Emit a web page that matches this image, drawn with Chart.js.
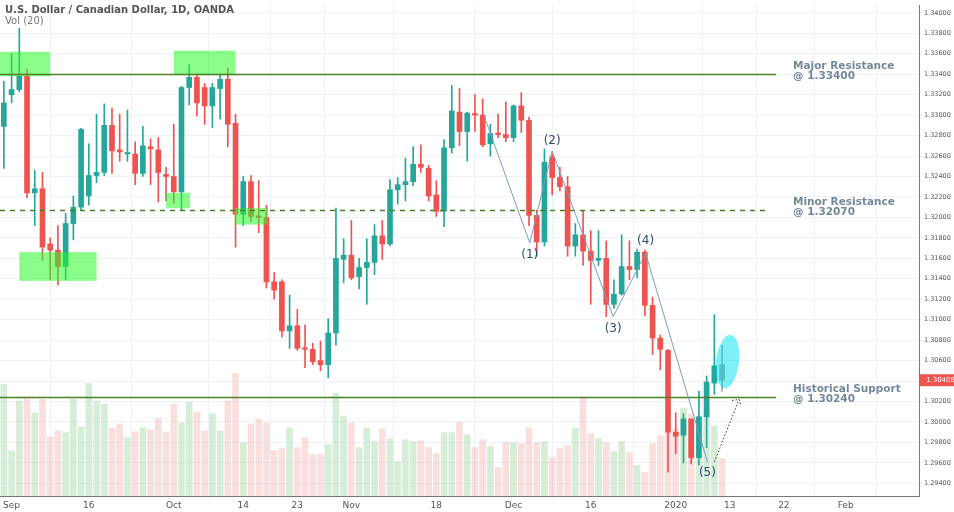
<!DOCTYPE html>
<html>
<head>
<meta charset="utf-8">
<script src="https://cdn.jsdelivr.net/npm/chart.js@4.4.1/dist/chart.umd.min.js"></script>
<style>
  html, body { margin: 0; padding: 0; background: #fff; }
  #wrap { width: 954px; height: 512px; position: relative; }
</style>
</head>
<body>
<div id="wrap"><canvas id="fx"></canvas></div>
<script>
// USD/CAD daily candles, 30 Aug 2019 .. 10 Jan 2020
const opens = [1.3289,1.3320,1.3325,1.3338,1.3224,1.3228,1.3174,1.3168,1.3152,1.3194,
  1.3210,1.3221,1.3241,1.3244,1.3290,1.3266,1.3262,1.3262,1.3243,1.3269,
  1.3266,1.3242,1.3240,1.3225,1.3327,1.3337,1.3327,1.3309,1.3326,1.3335,
  1.3292,1.3203,1.3235,1.3201,1.3200,1.3137,1.3137,1.3089,1.3094,1.3072,
  1.3071,1.3060,1.3056,1.3087,1.3159,1.3163,1.3142,1.3151,1.3156,1.3182,
  1.3174,1.3227,1.3232,1.3235,1.3252,1.3248,1.3222,1.3206,1.3268,1.3303,
  1.3284,1.3301,1.3300,1.3272,1.3282,1.3281,1.3278,1.3309,1.3295,1.3202,
  1.3176,1.3259,1.3239,1.3230,1.3172,1.3183,1.3167,1.3158,1.3160,1.3115,
  1.3125,1.3152,1.3149,1.3166,1.3114,1.3082,1.3070,1.2990,1.2987,1.3003,
  1.2965,1.3005,1.3038,1.3056];
const closes = [1.3312,1.3325,1.3338,1.3224,1.3228,1.3171,1.3168,1.3152,1.3194,1.3210,
  1.3286,1.3241,1.3244,1.3290,1.3265,1.3264,1.3263,1.3243,1.3270,1.3267,
  1.3244,1.3240,1.3225,1.3327,1.3337,1.3312,1.3309,1.3327,1.3335,1.3291,
  1.3203,1.3235,1.3201,1.3200,1.3137,1.3129,1.3089,1.3094,1.3072,1.3071,
  1.3059,1.3056,1.3087,1.3160,1.3163,1.3141,1.3151,1.3156,1.3182,1.3174,
  1.3227,1.3232,1.3235,1.3252,1.3249,1.3221,1.3206,1.3268,1.3304,1.3284,
  1.3302,1.3300,1.3271,1.3282,1.3281,1.3278,1.3309,1.3295,1.3202,1.3176,
  1.3254,1.3239,1.3230,1.3172,1.3183,1.3167,1.3158,1.3160,1.3115,1.3125,
  1.3152,1.3149,1.3166,1.3114,1.3082,1.3071,1.2990,1.2986,1.3003,1.2965,
  1.3005,1.3039,1.3055,1.3041];
const highs = [1.3333,1.3360,1.3385,1.3345,1.3246,1.3244,1.3180,1.3192,1.3204,1.3221,
  1.3287,1.3272,1.3301,1.3311,1.3307,1.3301,1.3305,1.3274,1.3289,1.3277,
  1.3278,1.3249,1.3291,1.3328,1.3349,1.3339,1.3331,1.3331,1.3339,1.3346,
  1.3301,1.3240,1.3241,1.3236,1.3212,1.3146,1.3139,1.3124,1.3110,1.3095,
  1.3077,1.3079,1.3101,1.3209,1.3179,1.3197,1.3160,1.3179,1.3193,1.3197,
  1.3237,1.3239,1.3258,1.3269,1.3271,1.3251,1.3236,1.3276,1.3329,1.3326,
  1.3303,1.3320,1.3316,1.3291,1.3301,1.3313,1.3310,1.3322,1.3298,1.3207,
  1.3267,1.3262,1.3249,1.3240,1.3194,1.3206,1.3187,1.3187,1.3177,1.3139,
  1.3183,1.3177,1.3169,1.3168,1.3122,1.3085,1.3071,1.3009,1.3008,1.3003,
  1.3030,1.3045,1.3105,1.3075];
const lows = [1.3248,1.3312,1.3323,1.3219,1.3192,1.3158,1.3139,1.3134,1.3139,1.3178,
  1.3207,1.3212,1.3234,1.3241,1.3243,1.3255,1.3255,1.3232,1.3240,1.3232,
  1.3215,1.3216,1.3214,1.3207,1.3310,1.3299,1.3291,1.3288,1.3296,1.3269,
  1.3171,1.3192,1.3196,1.3185,1.3131,1.3120,1.3083,1.3072,1.3070,1.3053,
  1.3056,1.3050,1.3043,1.3075,1.3136,1.3139,1.3130,1.3115,1.3144,1.3159,
  1.3172,1.3213,1.3216,1.3231,1.3244,1.3216,1.3201,1.3191,1.3263,1.3270,
  1.3255,1.3284,1.3269,1.3260,1.3278,1.3274,1.3274,1.3283,1.3192,1.3162,
  1.3172,1.3222,1.3226,1.3162,1.3162,1.3153,1.3115,1.3153,1.3103,1.3111,
  1.3124,1.3139,1.3141,1.3104,1.3066,1.3051,1.2951,1.2969,1.2960,1.2959,
  1.2958,1.2975,1.3027,1.3030];
const volumes = [113,46,96,99,84,98,60,66,64,98, 70,114,96,93,69,73,59,65,69,67,
  79,65,93,74,95,85,66,83,66,96, 124,54,73,78,74,46,48,69,49,59,
  42,42,52,104,81,74,49,69,55,68, 58,35,57,55,56,49,43,64,64,75,
  62,49,57,50,29,54,54,53,69,54, 55,39,48,51,69,99,63,58,54,45,
  55,44,31,24,53,61,68,68,89,83, 81,87,71,38];

const priceTicks = [1.294,1.296,1.298,1.300,1.302,1.304,1.306,1.308,1.310,1.312,1.314,1.316,
  1.318,1.320,1.322,1.324,1.326,1.328,1.330,1.332,1.334,1.336,1.338,1.340];
const tickDates = ['2019-09-02','2019-09-16','2019-10-01','2019-10-14','2019-10-23','2019-11-01',
  '2019-11-18','2019-12-02','2019-12-16','2020-01-02','2020-01-13','2020-01-22','2020-02-03'];
const tickTexts = ['Sep','16','Oct','14','23','Nov','18','Dec','16','2020','13','22','Feb'];

// levels and markings, in (bar index, price)
const levels = [
  { price: 1.3340, to: 100, dash: [], name: 'Major Resistance', val: '@ 1.33400' },
  { price: 1.3207, to: 99.1, dash: [5, 5], name: 'Minor Resistance', val: '@ 1.32070' },
  { price: 1.3024, to: 100, dash: [], name: 'Historical Support', val: '@ 1.30240' }
];
const zones = [
  [-0.5, 6.0, 1.3362, 1.3338],
  [22.0, 30.0, 1.3363, 1.3339],
  [2.0, 12.0, 1.3166, 1.3138],
  [21.0, 24.1, 1.3224, 1.3209],
  [29.9, 34.2, 1.3209, 1.3193]
];
const wavePts = [[62.2,1.3299],[68.1,1.3175],[71.0,1.3265],[78.9,1.3103],[83.1,1.3165],[91.1,1.2961]];
const waveNames = ['(1)','(2)','(3)','(4)','(5)'];
const waveOffsets = [12, -10, 12, -12, 11];
const lastPrice = 1.30408;

// trading-day categories: weekdays, no Dec 25 / Jan 1
const labels = [];
const d = new Date(Date.UTC(2019, 7, 30));
while (labels.length < 119) {
  const iso = d.toISOString().slice(0, 10);
  const wd = d.getUTCDay();
  if (wd !== 0 && wd !== 6 && iso !== '2019-12-25' && iso !== '2020-01-01') labels.push(iso);
  d.setUTCDate(d.getUTCDate() + 1);
}

const UP = '#26a69a', DOWN = '#ef5350';
const n = opens.length;
const candleColor = opens.map((o, i) => i === n - 1 ? '#9e9e9e' : (closes[i] >= o ? UP : DOWN));
const volColor = opens.map((o, i) => closes[i] >= o ? 'rgba(165,214,167,0.45)' : 'rgba(239,154,154,0.32)');

const overlay = {
  id: 'overlay',
  afterDatasetsDraw(chart) {
    const { ctx, chartArea: a } = chart;
    const x = chart.scales.x, y = chart.scales.y;
    const px = (i) => x.left + (i + 0.5) * (x.width / labels.length);
    ctx.save();
    // zones
    ctx.fillStyle = 'rgba(40,250,40,0.55)';
    zones.forEach(z => {
      const x0 = Math.max(a.left, px(z[0])), x1 = px(z[1]);
      const y0 = y.getPixelForValue(z[2]), y1 = y.getPixelForValue(z[3]);
      ctx.fillRect(x0, y0, x1 - x0, y1 - y0);
    });
    // levels
    levels.forEach(l => {
      const yy = Math.round(y.getPixelForValue(l.price)) + 0.5;
      ctx.strokeStyle = '#4a8028';
      ctx.lineWidth = 1.3;
      ctx.setLineDash(l.dash);
      ctx.beginPath(); ctx.moveTo(a.left, yy); ctx.lineTo(px(l.to), yy); ctx.stroke();
      ctx.setLineDash([]);
      ctx.fillStyle = '#75879a';
      ctx.font = 'bold 10.5px "DejaVu Sans"';
      ctx.textBaseline = 'middle';
      ctx.fillText(l.name, 793, yy - 8);
      ctx.fillText(l.val, 793, yy + 2);
    });
    // wave line
    ctx.strokeStyle = '#7a9cc0';
    ctx.lineWidth = 1;
    ctx.beginPath();
    wavePts.forEach((p, i) => {
      const xx = px(p[0]), yy = y.getPixelForValue(p[1]);
      if (i === 0) ctx.moveTo(xx, yy); else ctx.lineTo(xx, yy);
    });
    ctx.stroke();
    ctx.fillStyle = '#2e4a6e';
    ctx.font = '12px "DejaVu Sans"';
    ctx.textAlign = 'center';
    ctx.textBaseline = 'middle';
    waveNames.forEach((t, i) => {
      const p = wavePts[i + 1];
      ctx.fillText(t, px(p[0]), y.getPixelForValue(p[1]) + waveOffsets[i]);
    });
    ctx.textAlign = 'left';
    // dotted arrow
    const ax0 = px(92.0), ay0 = y.getPixelForValue(1.2961);
    const ax1 = px(95.2), ay1 = y.getPixelForValue(1.3022);
    ctx.strokeStyle = '#333';
    ctx.setLineDash([1.5, 2]);
    ctx.beginPath(); ctx.moveTo(ax0, ay0); ctx.lineTo(ax1, ay1); ctx.stroke();
    ctx.beginPath(); ctx.moveTo(ax1 - 7, ay1 + 1); ctx.lineTo(ax1, ay1); ctx.lineTo(ax1 + 2, ay1 + 6); ctx.stroke();
    ctx.setLineDash([]);
    // highlight ellipse
    ctx.fillStyle = 'rgba(0,225,240,0.5)';
    ctx.beginPath();
    ctx.ellipse(px(93.7), y.getPixelForValue(1.3059), 11.5, 27, 0.12, 0, Math.PI * 2);
    ctx.fill();
    ctx.restore();
  },
  afterDraw(chart) {
    const { ctx } = chart;
    const y = chart.scales.y;
    ctx.save();
    ctx.fillStyle = '#555';
    ctx.font = 'bold 10px "DejaVu Sans"';
    ctx.textBaseline = 'middle';
    ctx.fillText('U.S. Dollar / Canadian Dollar, 1D, OANDA', 5, 10);
    ctx.font = '10px "DejaVu Sans"';
    ctx.fillStyle = '#777';
    ctx.fillText('Vol (20)', 5, 21);
    // last price tag
    const yy = y.getPixelForValue(lastPrice);
    ctx.fillStyle = '#ef5350';
    ctx.fillRect(y.left + 1, yy - 6, 35, 12);
    ctx.fillStyle = '#fff';
    ctx.font = '7px "DejaVu Sans"';
    ctx.fillText('1.30408', y.left + 7, yy);
    ctx.restore();
  }
};

new Chart(document.getElementById('fx'), {
  type: 'bar',
  data: {
    labels: labels,
    datasets: [
      {
        label: 'body', data: opens.map((o, i) => [o, closes[i]]),
        backgroundColor: candleColor, barThickness: 5, minBarLength: 1.5,
        grouped: false, order: 1, yAxisID: 'y'
      },
      {
        label: 'wick', data: lows.map((l, i) => [l, highs[i]]),
        backgroundColor: candleColor, barThickness: 1,
        grouped: false, order: 2, yAxisID: 'y'
      },
      {
        label: 'vol', data: volumes,
        backgroundColor: volColor, barThickness: 6,
        grouped: false, order: 3, yAxisID: 'vol'
      }
    ]
  },
  options: {
    responsive: true,
    maintainAspectRatio: false,
    animation: false,
    layout: { padding: 0 },
    plugins: { legend: { display: false }, tooltip: { enabled: false } },
    scales: {
      x: {
        grid: { color: '#eef1f6', drawTicks: true, tickLength: 3 },
        border: { color: '#777' },
        afterBuildTicks: (s) => { s.ticks = tickDates.map(t => ({ value: labels.indexOf(t) })); },
        afterFit: (s) => { s.height = 16; },
        ticks: {
          autoSkip: false, maxRotation: 0, padding: 1,
          color: '#555', font: { size: 9, family: 'DejaVu Sans' },
          callback: (v) => tickTexts[tickDates.indexOf(labels[v])]
        }
      },
      y: {
        position: 'right',
        min: 1.29276, max: 1.34068,
        grid: { color: '#eef1f6', tickLength: 3 },
        border: { color: '#777' },
        afterBuildTicks: (s) => { s.ticks = priceTicks.map(v => ({ value: v })); },
        afterFit: (s) => { s.width = 35; },
        ticks: {
          color: '#555', padding: 2, font: { size: 6.5, family: 'DejaVu Sans' },
          callback: (v) => v.toFixed(5)
        }
      },
      vol: { display: false, min: 0, max: 496 }
    }
  },
  plugins: [overlay]
});
</script>
</body>
</html>
